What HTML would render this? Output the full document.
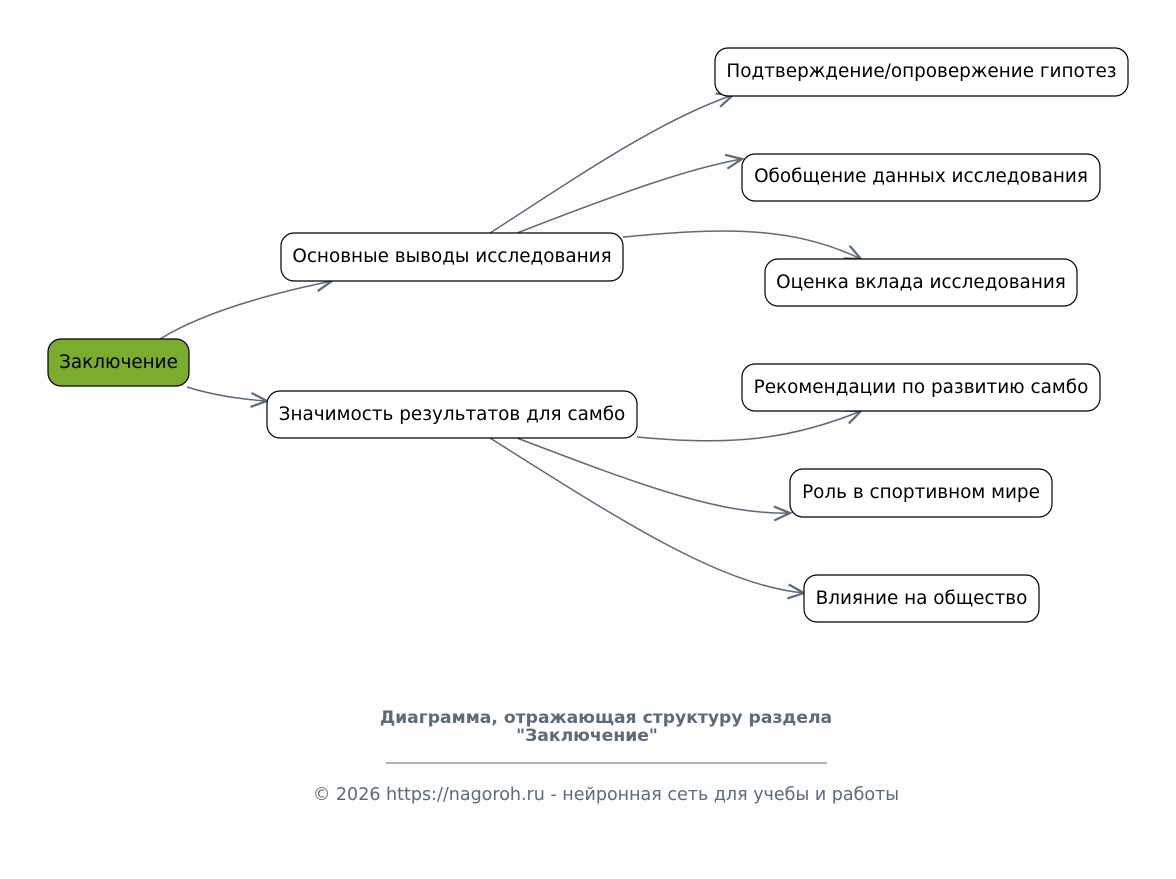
<!DOCTYPE html>
<html><head><meta charset="utf-8"><style>
html,body{margin:0;padding:0;background:#fdfdfd;}
svg{display:block;font-family:"DejaVu Sans","Liberation Sans",sans-serif;}
</style></head><body>
<svg width="1176" height="879" viewBox="0 0 1176 879" xmlns="http://www.w3.org/2000/svg">
<defs>
<marker id="a" markerUnits="userSpaceOnUse" markerWidth="24" markerHeight="24" refX="20" refY="12" orient="auto">
<path d="M4,5 L20,12 L4,19" fill="none" stroke="#5b6b7b" stroke-width="2.2"/>
</marker>
</defs>
<rect width="1176" height="879" fill="#fdfdfd"/>
<g fill="none" stroke="#5b6b7b" stroke-width="1.5" marker-end="url(#a)">
<path d="M160,339 Q215,305 332,281"/>
<path d="M187,387 Q222,398 267,401"/>
<path d="M490,233 C580,175 660,120 733,95"/>
<path d="M517,233 C620,193 690,168 742,159"/>
<path d="M623,237 C720,228 790,225 861,259"/>
<path d="M637,437 C730,446 790,440 861,411"/>
<path d="M517,438 C640,485 720,515 790,513"/>
<path d="M490,438 C620,520 720,585 804,593"/>
</g>
<g stroke="#000" stroke-width="1.2" fill="#fff">
<rect x="48" y="339" width="141" height="47" rx="13" fill="#7bab2f"/>
<rect x="281" y="233" width="342" height="48" rx="13"/>
<rect x="267" y="391" width="370" height="47" rx="13"/>
<rect x="715" y="48" width="413" height="48" rx="13"/>
<rect x="742" y="154" width="358" height="47" rx="13"/>
<rect x="765" y="259" width="312" height="47" rx="13"/>
<rect x="742" y="364" width="358" height="47" rx="13"/>
<rect x="790" y="469" width="262" height="48" rx="13"/>
<rect x="804" y="575" width="235" height="47" rx="13"/>
</g>
<g font-size="18.4" fill="#000" text-anchor="middle">
<text x="118.5" y="368">Заключение</text>
<text x="452" y="262">Основные выводы исследования</text>
<text x="452" y="420">Значимость результатов для самбо</text>
<text x="921.5" y="77">Подтверждение/опровержение гипотез</text>
<text x="921" y="182">Обобщение данных исследования</text>
<text x="921" y="288">Оценка вклада исследования</text>
<text x="921" y="393">Рекомендации по развитию самбо</text>
<text x="921" y="498">Роль в спортивном мире</text>
<text x="921.5" y="604">Влияние на общество</text>
</g>
<g fill="#5b6b7b" text-anchor="middle">
<text x="606" y="723" font-size="17.2" font-weight="bold">Диаграмма, отражающая структуру раздела</text>
<text x="587" y="741" font-size="17.2" font-weight="bold">"Заключение"</text>
<line x1="386" y1="763" x2="827" y2="763" stroke="#5b6b7b" stroke-width="1"/>
<text x="606" y="800" font-size="17.5">© 2026 https://nagoroh.ru - нейронная сеть для учебы и работы</text>
</g>
</svg>
</body></html>
